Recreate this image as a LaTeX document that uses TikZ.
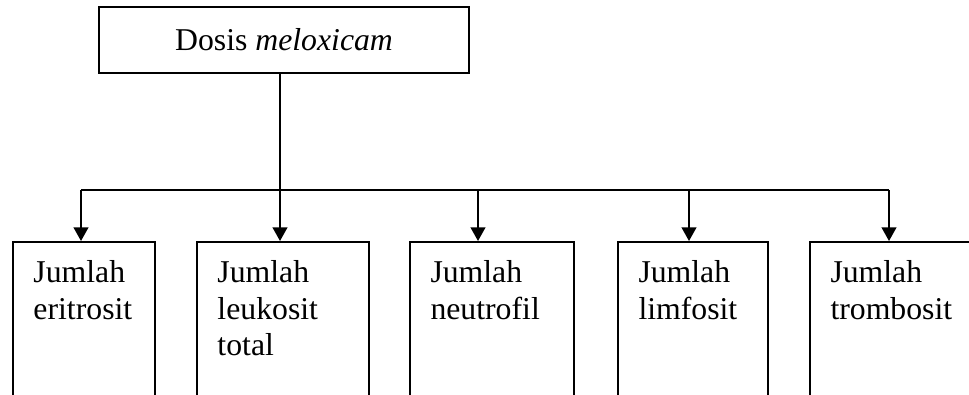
\documentclass[tikz,border=0pt]{standalone}
\usepackage{fontspec}
\setmainfont{Liberation Serif}
\usepackage{tikz}
\usetikzlibrary{positioning}
\usetikzlibrary{arrows.meta}
\newcommand{\pks}{0.378pt}

\begin{document}
\begin{tikzpicture}[x=\pks, y=-\pks, line width=0.75pt,
        kotak/.style={draw, rectangle, anchor=north west, minimum height=200*\pks, inner sep=0},
        teks/.style={inner sep=0, align=left, font=\fontsize{12}{13.8}\selectfont},
        panah/.style={-{Triangle[width=5.6pt,length=5.2pt]}}]
      \path[use as bounding box, clip] (0,0) rectangle (969,394);
      \node[draw, minimum width=370*\pks, minimum height=66*\pks,
            font=\fontsize{12}{13.8}\selectfont]  (dosis) at (284,40) {Dosis \textit{meloxicam}};

      \node[kotak, minimum width=142*\pks]  (eri)  at (12,241)  {};
      \node[kotak, minimum width=172*\pks]  (leu)  at (196,241) {};
      \node[kotak, minimum width=164*\pks]  (neu)  at (409,241) {};
      \node[kotak, minimum width=150*\pks]  (lim)  at (617,241) {};
      \node[kotak, minimum width=200*\pks]  (trom) at (809,241) {};

      \node[teks]  (teri)  [below right=7.1pt and 7.75pt of eri.north west]  {Jumlah\\eritrosit};
      \node[teks]  (tleu)  [below right=7.1pt and 7.75pt of leu.north west]  {Jumlah\\leukosit\\total};
      \node[teks]  (tneu)  [below right=7.1pt and 7.75pt of neu.north west]  {Jumlah\\neutrofil};
      \node[teks]  (tlim)  [below right=7.1pt and 7.75pt of lim.north west]  {Jumlah\\limfosit};
      \node[teks]  (ttrom) [below right=7.1pt and 7.75pt of trom.north west] {Jumlah\\trombosit};

      \coordinate (c1) at (81,190);
      \coordinate (c2) at (280,190);
      \coordinate (c3) at (478,190);
      \coordinate (c4) at (689,190);
      \coordinate (c5) at (889,190);

      \draw (c2 |- dosis.south) -- (c2);
      \draw (c1) -- (c5);
      \path [panah] (c1) edge (c1 |- eri.north)
                    (c2) edge (c2 |- leu.north)
                    (c3) edge (c3 |- neu.north)
                    (c4) edge (c4 |- lim.north)
                    (c5) edge (c5 |- trom.north);
      \end{tikzpicture}
\end{document}
